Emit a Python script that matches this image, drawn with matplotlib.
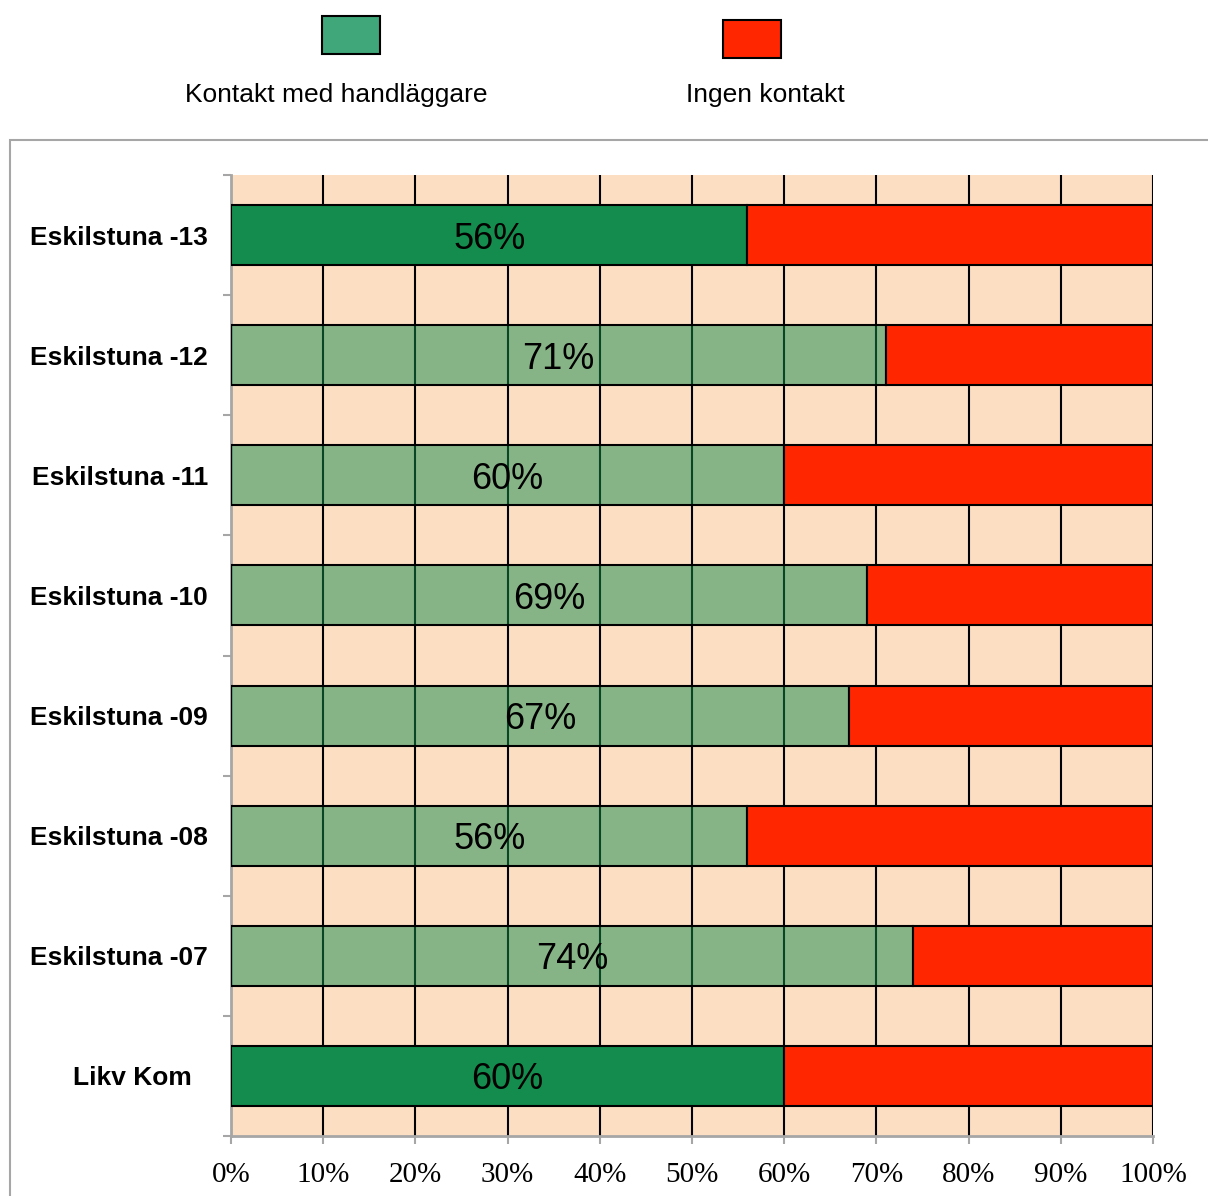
import matplotlib
matplotlib.use('Agg')
import matplotlib.pyplot as plt
import matplotlib.transforms as mtransforms
from matplotlib.patches import Rectangle
import numpy as np

# share of respondents per survey
categories = ['Eskilstuna -13', 'Eskilstuna -12', 'Eskilstuna -11', 'Eskilstuna -10',
              'Eskilstuna -09', 'Eskilstuna -08', 'Eskilstuna -07', 'Likv Kom']
kontakt    = [56, 71, 60, 69, 67, 56, 74, 60]
highlight  = [True, False, False, False, False, False, False, True]
ingen      = [100 - v for v in kontakt]
xticks     = list(range(0, 101, 10))
legend_labels = ['Kontakt med handläggare', 'Ingen kontakt']

green  = '#138c4d'
red    = '#ff2600'
bg     = '#fcdec2'
gray   = '#a6a6a6'

fig = plt.figure(figsize=(12.08, 11.96), dpi=100)
ax = fig.add_axes([231/1208, 1 - 1136/1196, 922/1208, 961/1196])
ax.set_facecolor(bg)

y = np.arange(len(categories))
faces = [green if h else matplotlib.colors.to_rgba(green, 0.5) for h in highlight]
ax.barh(y, kontakt, height=0.5, color=faces, edgecolor='black', linewidth=1.5, zorder=3)
ax.barh(y, ingen, left=kontakt, height=0.5, color=red, edgecolor='black', linewidth=1.5, zorder=3)

for yi, v in zip(y, kontakt):
    ax.text(v / 2, yi, f'{v}%', ha='center', va='center_baseline', fontsize=26,
            family='Liberation Sans', zorder=5)

ax.set_xlim(0, 100)
ax.set_ylim(len(categories) - 0.5, -0.5)
ax.set_xticks(xticks)
ax.set_xticklabels([f'{t}%' for t in xticks], family='Liberation Serif', fontsize=21)
ax.set_yticks(y)
ax.set_yticklabels(categories, family='Liberation Sans', fontweight='bold', fontsize=19)
ax.set_yticks(np.arange(-0.5, len(categories), 1), minor=True)
ax.tick_params(axis='y', which='major', length=0, pad=16.5)
ax.tick_params(axis='y', which='minor', length=6, width=1.5, color=gray)
ax.tick_params(axis='x', length=6, width=1.5, color=gray, pad=13)

# the last label sits a bit further in
lab = ax.get_yticklabels()[-1]
lab.set_transform(lab.get_transform() + mtransforms.ScaledTranslation(-16/100, 0, fig.dpi_scale_trans))

ax.xaxis.grid(True, color='black', linewidth=1.5)
ax.set_axisbelow(True)
for s in ['top', 'right']:
    ax.spines[s].set_visible(False)
for s in ['left', 'bottom']:
    ax.spines[s].set_color(gray)
    ax.spines[s].set_linewidth(2)

# outer chart frame, runs off the right and bottom edges
fig.patches.append(Rectangle((10/1208, -0.2), 1.2, 1.2 - 140/1196, transform=fig.transFigure,
                             fill=False, edgecolor=gray, linewidth=1.5))

# legend: swatch with the label underneath
fig.patches.append(Rectangle((322/1208, 1 - 54/1196), 58/1208, 38/1196, transform=fig.transFigure,
                             facecolor='#3fa77a', edgecolor='black', linewidth=1.5))
fig.patches.append(Rectangle((723/1208, 1 - 58/1196), 58/1208, 38/1196, transform=fig.transFigure,
                             facecolor=red, edgecolor='black', linewidth=1.5))
fig.text(336/1208, 1 - 95/1196, legend_labels[0], ha='center', va='center',
         fontsize=19, family='Liberation Sans')
fig.text(765/1208, 1 - 95/1196, legend_labels[1], ha='center', va='center',
         fontsize=19, family='Liberation Sans')

plt.savefig('out.png', dpi=100)
